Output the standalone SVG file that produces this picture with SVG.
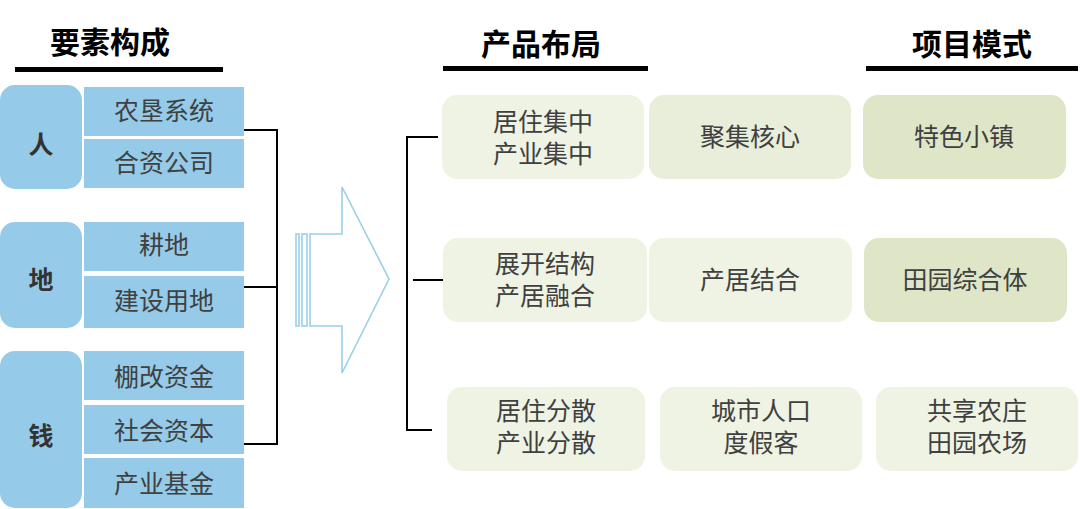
<svg xmlns="http://www.w3.org/2000/svg" width="1080" height="509" viewBox="0 0 1080 509">
<style>
.hd{font-family:"Noto Sans CJK SC","Noto Sans",sans-serif;font-weight:bold;font-size:30px;fill:#000;text-anchor:middle}
.ul{fill:#000}
.big{fill:#95CBE8}
.sub{fill:#95CBE8}
.bt{font-family:"Noto Sans CJK SC","Noto Sans",sans-serif;font-weight:bold;font-size:25px;fill:#333;text-anchor:middle}
.st{font-family:"Liberation Sans","Noto Sans CJK SC",sans-serif;font-size:25px;fill:#404040;text-anchor:middle}
.g1{fill:#EFF3E3}
.g2{fill:#E8EED9}
.g3{fill:#DFE6C8}
.ln{fill:none;stroke:#000;stroke-width:2}
.arr{fill:none;stroke:#9ACFEA;stroke-width:1.6}
</style>
<g id="headers">
<text class="hd" x="110" y="53">要素构成</text>
<rect class="ul" x="15" y="67" width="208" height="5"/>
<text class="hd" x="541" y="55">产品布局</text>
<rect class="ul" x="443" y="66" width="205" height="5"/>
<text class="hd" x="972" y="55">项目模式</text>
<rect class="ul" x="866" y="66" width="212" height="5"/>
</g>
<g id="ren">
<rect class="big" x="0" y="85" width="82" height="104" rx="15"/>
<text class="bt" x="41" y="154">人</text>
</g>
<g id="nongken"><rect class="sub" x="84" y="87" width="160" height="49"/><text class="st" x="164" y="120">农垦系统</text></g>
<g id="hezi"><rect class="sub" x="84" y="139" width="160" height="49"/><text class="st" x="164" y="172">合资公司</text></g>
<g id="di">
<rect class="big" x="0" y="222" width="82" height="106" rx="15"/>
<text class="bt" x="41" y="289">地</text>
</g>
<g id="gengdi"><rect class="sub" x="84" y="222" width="160" height="49"/><text class="st" x="164" y="254">耕地</text></g>
<g id="jianshe"><rect class="sub" x="84" y="276" width="160" height="52"/><text class="st" x="164" y="310">建设用地</text></g>
<g id="qian">
<rect class="big" x="0" y="351" width="82" height="157" rx="15"/>
<text class="bt" x="41" y="445">钱</text>
</g>
<g id="penggai"><rect class="sub" x="84" y="351" width="160" height="49"/><text class="st" x="164" y="386">棚改资金</text></g>
<g id="shehui"><rect class="sub" x="84" y="405" width="160" height="49"/><text class="st" x="164" y="440">社会资本</text></g>
<g id="chanye"><rect class="sub" x="84" y="458" width="160" height="50"/><text class="st" x="164" y="493">产业基金</text></g>
<g id="arrow">
<rect class="arr" x="296" y="234" width="3" height="92"/>
<rect class="arr" x="302" y="234" width="5" height="92"/>
<path class="arr" d="M310 234 H342 V187 L389 279 L342 373 V326 H310 Z"/>
</g>
<g id="connectors">
<path class="ln" d="M244 130 H277 V444 H244 M244 287 H277"/>
<path class="ln" d="M438 137 H407 V430 H432 M413 280 H443"/>
</g>
<g id="r1a"><rect class="g1" x="442" y="95" width="202" height="84" rx="15"/><text class="st" x="543" y="131">居住集中</text><text class="st" x="543" y="163">产业集中</text></g>
<g id="r1b"><rect class="g2" x="649" y="95" width="202" height="84" rx="15"/><text class="st" x="750" y="146">聚集核心</text></g>
<g id="r1c"><rect class="g3" x="863" y="95" width="203" height="84" rx="15"/><text class="st" x="964" y="146">特色小镇</text></g>
<g id="r2a"><rect class="g1" x="443" y="238" width="204" height="84" rx="15"/><text class="st" x="545" y="273">展开结构</text><text class="st" x="545" y="305">产居融合</text></g>
<g id="r2b"><rect class="g1" x="649" y="238" width="203" height="84" rx="15"/><text class="st" x="750" y="289">产居结合</text></g>
<g id="r2c"><rect class="g3" x="864" y="238" width="203" height="84" rx="15"/><text class="st" x="965" y="289">田园综合体</text></g>
<g id="r3a"><rect class="g1" x="447" y="387" width="198" height="84" rx="15"/><text class="st" x="546" y="420">居住分散</text><text class="st" x="546" y="452">产业分散</text></g>
<g id="r3b"><rect class="g1" x="660" y="387" width="202" height="84" rx="15"/><text class="st" x="761" y="420">城市人口</text><text class="st" x="761" y="452">度假客</text></g>
<g id="r3c"><rect class="g1" x="876" y="387" width="202" height="84" rx="15"/><text class="st" x="977" y="420">共享农庄</text><text class="st" x="977" y="452">田园农场</text></g>
</svg>
